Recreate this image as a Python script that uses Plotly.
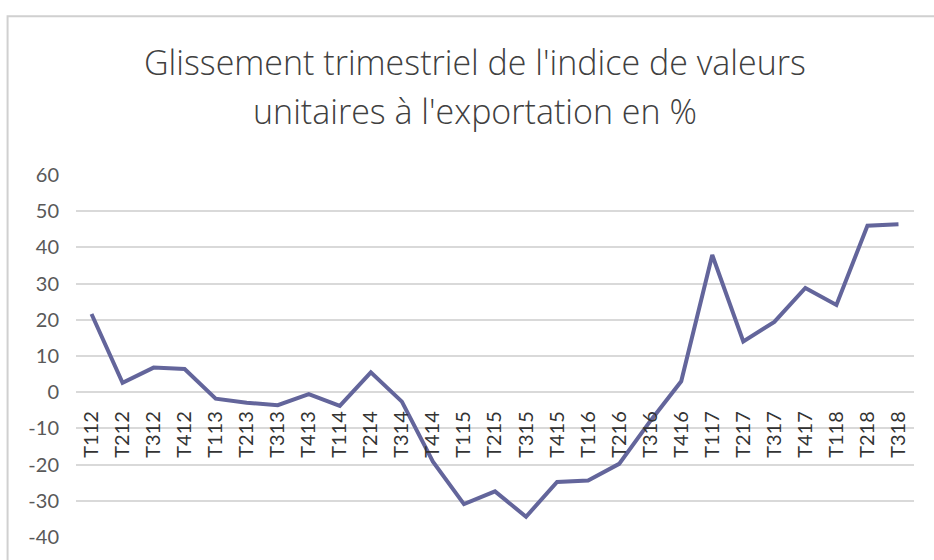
import plotly.graph_objects as go

categories = ["T112", "T212", "T312", "T412", "T113", "T213", "T313", "T413",
              "T114", "T214", "T314", "T414", "T115", "T215", "T315", "T415",
              "T116", "T216", "T316", "T416", "T117", "T217", "T317", "T417",
              "T118", "T218", "T318"]
values = [21.6, 2.6, 6.8, 6.4, -1.8, -2.9, -3.6, -0.5,
          -3.8, 5.5, -2.6, -19.2, -30.9, -27.4, -34.4, -24.8,
          -24.4, -19.8, -8.0, 3.0, 37.9, 14.0, 19.4, 28.8,
          24.1, 46.0, 46.4]
y_ticks = [-40, -30, -20, -10, 0, 10, 20, 30, 40, 50, 60]
y_tick_labels = [str(v) for v in y_ticks]
title_lines = ["Glissement trimestriel de l'indice de valeurs",
               "unitaires à l'exportation en %"]

W, H = 934, 560
L, R, T, B = 75.5, 19.5, 175, 20
pw, ph = W - L - R, H - T - B

def px_x(x):
    return (x - L) / pw

def px_y(y):
    return (H - B - y) / ph

fig = go.Figure()
fig.add_trace(go.Scatter(
    x=categories, y=values, mode="lines",
    line=dict(color="#63659B", width=4),
    hoverinfo="x+y", showlegend=False,
))

tick_font = "Lato, 'Open Sans', sans-serif"
title_font = "'Open Sans', Lato, sans-serif"

fig.update_layout(
    width=W, height=H, autosize=False,
    margin=dict(l=L, r=R, t=T, b=B, pad=0),
    paper_bgcolor="white", plot_bgcolor="white",
    font=dict(family=tick_font, color="#595959"),
    xaxis=dict(
        type="category", range=[-0.5, len(categories) - 0.5],
        anchor="free", position=0.4,
        showgrid=False, showline=False, zeroline=False, ticks="",
        tickangle=-90, tickfont=dict(size=20, color="#333333"),
        ticklabelstandoff=14,
    ),
    yaxis=dict(
        range=[-40, 60], tickvals=y_ticks, ticktext=y_tick_labels,
        showgrid=True, gridcolor="#D9D9D9", gridwidth=1.5,
        zeroline=True, zerolinecolor="#D9D9D9", zerolinewidth=1.5,
        showline=False, ticks="",
        tickfont=dict(size=20, color="#595959"),
        ticklabelstandoff=16,
    ),
    shapes=[dict(
        type="rect", xref="paper", yref="paper",
        x0=px_x(7), x1=px_x(W + 20), y0=px_y(H + 20), y1=px_y(15),
        line=dict(color="#D0D0D0", width=2), fillcolor="rgba(0,0,0,0)",
        layer="below",
    )],
    annotations=[
        dict(text=title_lines[0], xref="paper", yref="paper",
             x=px_x(475), y=px_y(61), xanchor="center", yanchor="middle",
             showarrow=False, font=dict(size=34, color="#404040", family=title_font, weight=300)),
        dict(text=title_lines[1], xref="paper", yref="paper",
             x=px_x(475), y=px_y(110), xanchor="center", yanchor="middle",
             showarrow=False, font=dict(size=34, color="#404040", family=title_font, weight=300)),
    ],
)

fig.write_html("out.html", config={"displayModeBar": False},
               post_script="document.body.style.margin='0';document.body.style.overflow='hidden';")
